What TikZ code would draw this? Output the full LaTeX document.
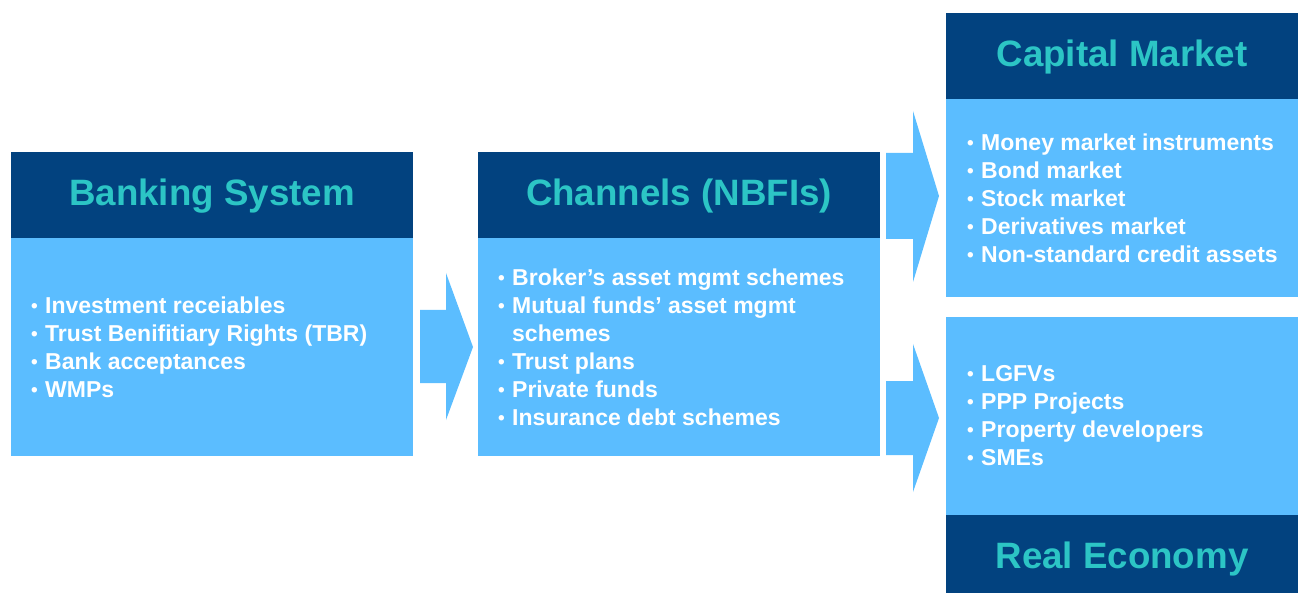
\documentclass[tikz,border=0pt]{standalone}
\usepackage{fontspec}
\setmainfont{Liberation Sans}
\definecolor{navy}{HTML}{02427F}
\definecolor{sky}{HTML}{5BBDFF}
\definecolor{titleteal}{HTML}{2CC5C5}
\newcommand{\bul}{\makebox[14pt][l]{\fontsize{19}{19}\selectfont\raisebox{1pt}{•}}}
\begin{document}
\begin{tikzpicture}[x=1pt,y=-1pt,
  hdr/.style={fill=navy, text=titleteal, font=\bfseries\fontsize{36.7}{40}\selectfont,
    inner sep=0pt, outer sep=0pt, anchor=north west, text height=26.5pt, text depth=4.5pt},
  body/.style={fill=sky, inner sep=0pt, outer sep=0pt, anchor=north west},
  items/.style={text=white, font=\bfseries\fontsize{23}{28}\selectfont, align=left,
    inner sep=0pt, anchor=west},
  flow/.style={fill=sky}]
\useasboundingbox (0,0) rectangle (1298,593);

% Banking system
\node[hdr, minimum width=402pt, minimum height=86pt] (bankH) at (11,152) {Banking System};
\node[body, minimum width=402pt, minimum height=218pt] (bankB) at (11,238) {};
\node[items] (bankT) at ([xshift=20pt]bankB.west) {%
  \bul Investment receiables\\
  \bul Trust Benifitiary Rights (TBR)\\
  \bul Bank acceptances\\
  \bul WMPs};

% Channels
\node[hdr, minimum width=402pt, minimum height=86pt] (chanH) at (478,152) {Channels (NBFIs)};
\node[body, minimum width=402pt, minimum height=218pt] (chanB) at (478,238) {};
\node[items] (chanT) at ([xshift=20pt]chanB.west) {%
  \bul Broker’s asset mgmt schemes\\
  \bul Mutual funds’ asset mgmt\\
  \hspace*{14pt}schemes\\
  \bul Trust plans\\
  \bul Private funds\\
  \bul Insurance debt schemes};

% Capital market
\node[hdr, minimum width=352pt, minimum height=86pt] (capH) at (946,13) {Capital Market};
\node[body, minimum width=352pt, minimum height=198pt] (capB) at (946,99) {};
\node[items] (capT) at ([xshift=21pt]capB.west) {%
  \bul Money market instruments\\
  \bul Bond market\\
  \bul Stock market\\
  \bul Derivatives market\\
  \bul Non-standard credit assets};

% Real economy
\node[body, minimum width=352pt, minimum height=198pt] (realB) at (946,317) {};
\node[hdr, minimum width=352pt, minimum height=78pt, text height=28pt, text depth=0pt] (realH) at (946,515) {Real Economy};
\node[items] (realT) at ([xshift=21pt]realB.west) {%
  \bul LGFVs\\
  \bul PPP Projects\\
  \bul Property developers\\
  \bul SMEs};

% Block arrows between the stages
\fill[flow] (420,310) -- (446,310) -- (446,273) -- (473,347) -- (446,420) -- (446,383) -- (420,383) -- cycle;
\fill[flow] (886,153) -- (913,153) -- (913,111) -- (939,196) -- (913,282) -- (913,239) -- (886,239) -- cycle;
\fill[flow] (886,381) -- (913,381) -- (913,344) -- (939,418) -- (913,492) -- (913,455) -- (886,455) -- cycle;
\end{tikzpicture}
\end{document}
